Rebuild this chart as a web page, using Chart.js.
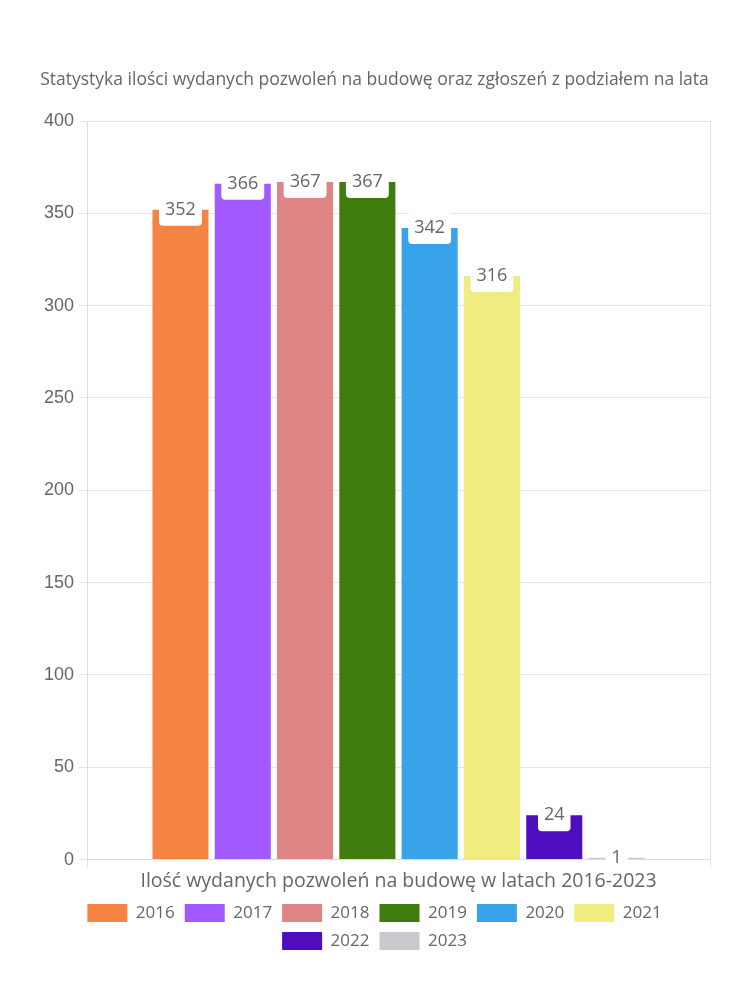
<!DOCTYPE html>
<html>
<head>
<meta charset="utf-8">
<script src="https://cdn.jsdelivr.net/npm/chart.js@4"></script>
<style>
html,body{margin:0;padding:0;background:#fff;}
#wrap{width:750px;height:1000px;position:relative;}
</style>
</head>
<body>
<div id="wrap"><canvas id="c" width="750" height="1000"></canvas></div>
<script>
const categories = ["Ilość wydanych pozwoleń na budowę w latach 2016-2023"];
const years = ["2016","2017","2018","2019","2020","2021","2022","2023"];
const values = [352, 366, 367, 367, 342, 316, 24, 1];
const colors = ["#F58442","#A259FF","#E08585","#3E7C0E","#38A3E8","#F0EC80","#4E0DBF","#C9CACD"];
const yTicks = [0, 50, 100, 150, 200, 250, 300, 350, 400];
const titleText = "Statystyka ilości wydanych pozwoleń na budowę oraz zgłoszeń z podziałem na lata";

const roundFont = "'Open Sans', sans-serif";

const labelPlugin = {
  id: 'barLabels',
  afterDatasetsDraw(chart) {
    const ctx = chart.ctx;
    ctx.save();
    ctx.font = "18px " + roundFont;
    ctx.textAlign = 'center';
    ctx.textBaseline = 'middle';
    chart.data.datasets.forEach((ds, i) => {
      const meta = chart.getDatasetMeta(i);
      if (meta.hidden) return;
      meta.data.forEach((bar, j) => {
        const txt = String(ds.data[j]);
        const w = ctx.measureText(txt).width + 12;
        const h = 32;
        const x = bar.x - w / 2;
        const y = bar.y - h / 2;
        ctx.fillStyle = '#ffffff';
        ctx.beginPath();
        ctx.roundRect(x, y, w, h, 4);
        ctx.fill();
        ctx.fillStyle = '#666666';
        ctx.fillText(txt, bar.x, bar.y);
      });
    });
    ctx.restore();
  }
};

new Chart(document.getElementById('c'), {
  type: 'bar',
  data: {
    labels: categories,
    datasets: years.map((y, i) => ({
      label: y,
      data: [values[i]],
      backgroundColor: colors[i],
      borderWidth: 0
    }))
  },
  options: {
    responsive: false,
    animation: false,
    layout: { padding: { top: 70, left: 39, right: 40, bottom: 40 } },
    plugins: {
      title: {
        display: true,
        text: titleText,
        color: '#666',
        font: { family: roundFont, size: 17.5, weight: 'normal' },
        padding: { top: 0, bottom: 30 }
      },
      legend: {
        position: 'bottom',
        labels: {
          color: '#666',
          font: { family: roundFont, size: 17 },
          boxWidth: 40,
          boxHeight: 18,
          padding: 10
        }
      },
      tooltip: { enabled: false }
    },
    scales: {
      x: {
        grid: { color: '#e5e5e5', offset: true },
        border: { color: '#dddddd' },
        ticks: { display: false },
        title: {
          display: true,
          text: categories[0],
          color: '#666',
          font: { family: roundFont, size: 19.5 },
          padding: { top: 2, bottom: 1 }
        }
      },
      y: {
        min: 0, max: 400,
        afterBuildTicks(axis) { axis.ticks = yTicks.map(v => ({ value: v })); },
        grid: { color: '#e5e5e5' },
        border: { color: '#dddddd' },
        ticks: {
          color: '#666',
          font: { family: "'Liberation Sans', Arial, sans-serif", size: 18 },
          padding: 5
        }
      }
    }
  },
  plugins: [labelPlugin]
});
</script>
</body>
</html>
